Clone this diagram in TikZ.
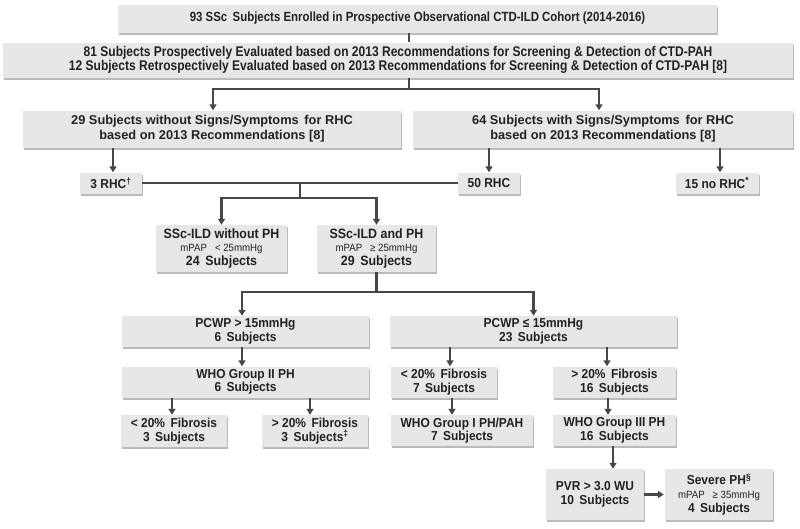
\documentclass[tikz,border=0pt]{standalone}
\usepackage{fontspec}
\setmainfont{Liberation Sans}
\newfontfamily\narrowf[FakeStretch=0.86]{Liberation Sans}
\newfontfamily\semif[FakeStretch=0.92]{Liberation Sans}
\usetikzlibrary{arrows.meta,shadows}
\definecolor{boxfill}{HTML}{E8E6E8}
\definecolor{linec}{HTML}{474747}
\definecolor{textc}{HTML}{222222}
\newcommand\smallmpap{\semif\mdseries\fontsize{10.5}{12}\selectfont}
\tikzset{
  bx/.style={fill=boxfill, draw=none, inner sep=0pt, align=center, text=textc,
    font=\semif\bfseries\fontsize{13}{13.5}\selectfont,
    drop shadow={shadow xshift=1.2pt, shadow yshift=-2.2pt, fill=black!45, opacity=0.6}},
  ln/.style={draw=linec, line width=2.2pt},
  ar/.style={ln, -{Triangle[width=7pt,length=6pt]}},
}
\begin{document}
\begin{tikzpicture}[x=1pt,y=-1pt]
\useasboundingbox[fill=white] (0,0) rectangle (800,528);
% boxes
\node[bx, minimum width=599, minimum height=28, font=\narrowf\bfseries\fontsize{13.3}{14}\selectfont] (n1) at (417.5,18.5)
  {93 SSc\, Subjects Enrolled in Prospective Observational CTD-ILD Cohort (2014-2016)};
\node[bx, minimum width=790, minimum height=35, font=\narrowf\bfseries\fontsize{14}{14}\selectfont] (n2) at (398,60)
  {81 Subjects Prospectively Evaluated based on 2013 Recommendations for Screening \& Detection of CTD-PAH\\
   12 Subjects Retrospectively Evaluated based on 2013 Recommendations for Screening \& Detection of CTD-PAH [8]};
\node[bx, minimum width=378, minimum height=37, font=\bfseries\fontsize{12.8}{15}\selectfont] (n3) at (212,129)
  {29 Subjects without Signs/Symptoms\, for RHC\\based on 2013 Recommendations [8]};
\node[bx, minimum width=380, minimum height=37, font=\bfseries\fontsize{12.8}{15}\selectfont] (n4) at (603,129)
  {64 Subjects with Signs/Symptoms\, for RHC\\based on 2013 Recommendations [8]};
\node[bx, minimum width=62, minimum height=21] (r3) at (111,183) {3 RHC\textsuperscript{†}};
\node[bx, minimum width=62, minimum height=21] (r50) at (489,183) {50 RHC};
\node[bx, minimum width=83, minimum height=21] (r15) at (717,183) {15 no RHC\textsuperscript{*}};
\node[bx, minimum width=131, minimum height=47, font=\semif\bfseries\fontsize{13.5}{13.5}\selectfont] (noph) at (221.5,248.5)
  {SSc-ILD without PH\\{\smallmpap mPAP\,\,\, < 25mmHg}\\24\, Subjects};
\node[bx, minimum width=119, minimum height=47, font=\semif\bfseries\fontsize{13.5}{13.5}\selectfont] (ph) at (376.5,248.5)
  {SSc-ILD and PH\\{\smallmpap mPAP\,\,\, ≥ 25mmHg}\\29\, Subjects};
\node[bx, minimum width=247, minimum height=31] (pc1) at (245.5,331.5) {PCWP > 15mmHg\\6\, Subjects};
\node[bx, minimum width=287, minimum height=31] (pc2) at (533.5,331.5) {PCWP ≤ 15mmHg\\23\, Subjects};
\node[bx, minimum width=247, minimum height=31] (who2) at (245.5,382) {WHO Group II PH\\6\, Subjects};
\node[bx, minimum width=106, minimum height=32] (f1) at (174,431) {< 20\%\, Fibrosis\\3\, Subjects};
\node[bx, minimum width=106, minimum height=32] (f2) at (315,431) {> 20\%\, Fibrosis\\3\, Subjects\textsuperscript{‡}};
\node[bx, minimum width=106, minimum height=31] (f3) at (444,382) {< 20\%\, Fibrosis\\7\, Subjects};
\node[bx, minimum width=123, minimum height=31] (f4) at (614.5,382) {> 20\%\, Fibrosis\\16\, Subjects};
\node[bx, minimum width=142, minimum height=31] (who1) at (462,430.5) {WHO Group I PH/PAH\\7\, Subjects};
\node[bx, minimum width=123, minimum height=31] (who3) at (614.5,430.5) {WHO Group III PH\\16\, Subjects};
\node[bx, minimum width=98, minimum height=51] (pvr) at (595,494.5) {PVR > 3.0 WU\\10\, Subjects};
\node[bx, minimum width=108, minimum height=51, font=\semif\bfseries\fontsize{13}{14}\selectfont] (sev) at (719,494.5)
  {Severe PH\textsuperscript{§}\\{\smallmpap mPAP\,\,\, ≥ 35mmHg}\\4\, Subjects};
% x positions of connectors
\coordinate (x0) at (409,0);
\coordinate (xn3) at (213,0);
\coordinate (xn4) at (599,0);
\coordinate (xr3) at (113,0);
\coordinate (xr15) at (720,0);
\coordinate (xpc1) at (242,0);
\coordinate (xf1) at (172,0);
\coordinate (xf2) at (310,0);
\coordinate (xf3) at (450,0);
\coordinate (xf4) at (607,0);
\coordinate (xw1) at (452,0);
\coordinate (xw3) at (608,0);
\coordinate (xpvr) at (613,0);
% connectors
\draw[ln] (n1.south -| x0) -- (n2.north -| x0);
\coordinate (j0) at (409,89);
\draw[ln] (n2.south -| x0) -- (j0);
\draw[ar] (j0) -| (n3.north -| xn3);
\draw[ar] (j0) -| (n4.north -| xn4);
\draw[ar] (n3.south -| xr3) -- (r3.north -| xr3);
\draw[ar] (n4.south -| r50) -- (r50.north);
\draw[ar] (n4.south -| xr15) -- (r15.north -| xr15);
\draw[ln] (r3.east) -- (r50.west);
\coordinate (j1) at (300,183);
\coordinate (j1b) at (300,198);
\draw[ln] (j1) -- (j1b);
\draw[ar] (j1b) -| (noph.north);
\draw[ar] (j1b) -| (ph.north);
\coordinate (j2) at (376.5,292);
\draw[ln] (ph.south) -- (j2);
\draw[ar] (j2) -| (pc1.north -| xpc1);
\draw[ar] (j2) -| (pc2.north);
\draw[ar] (pc1.south -| xpc1) -- (who2.north -| xpc1);
\draw[ar] (who2.south -| xf1) -- (f1.north -| xf1);
\draw[ar] (who2.south -| xf2) -- (f2.north -| xf2);
\draw[ar] (pc2.south -| xf3) -- (f3.north -| xf3);
\draw[ar] (pc2.south -| xf4) -- (f4.north -| xf4);
\draw[ar] (f3.south -| xw1) -- (who1.north -| xw1);
\draw[ar] (f4.south -| xw3) -- (who3.north -| xw3);
\draw[ar] (who3.south -| xpvr) -- (pvr.north -| xpvr);
\draw[ar, shorten <=0pt, shorten >=1pt] (pvr.east) -- (sev.west);
\end{tikzpicture}
\end{document}
